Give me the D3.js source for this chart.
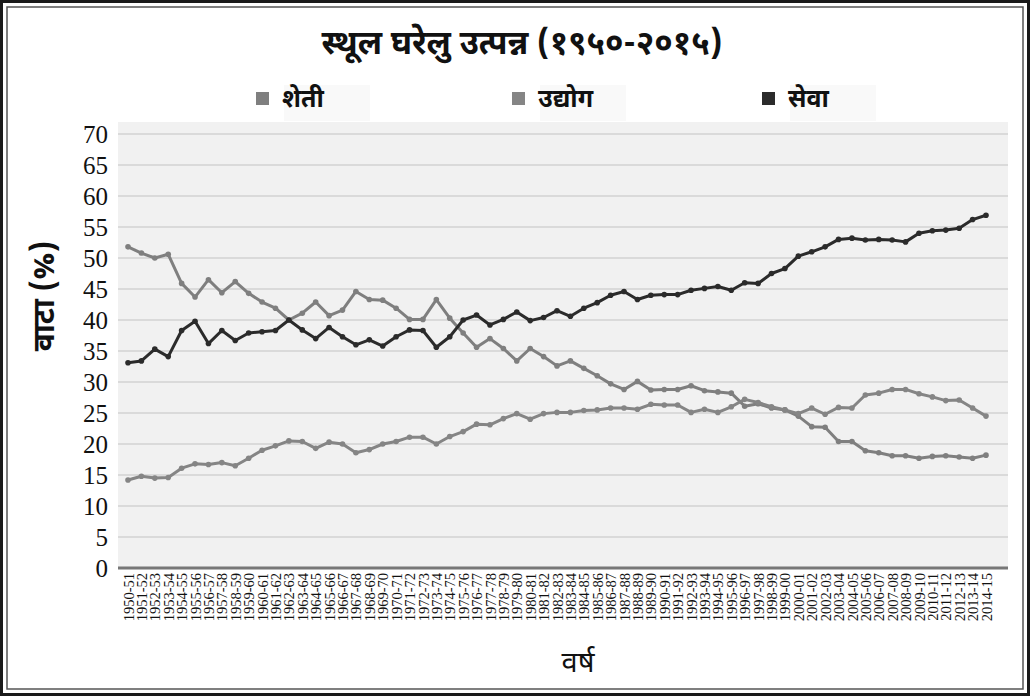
<!DOCTYPE html>
<html>
<head>
<meta charset="utf-8">
<script src="https://cdn.jsdelivr.net/npm/d3@7"></script>
<style>
  body { margin: 0; background: #fff; }
  svg { display: block; }
</style>
</head>
<body>
<script>
const width = 1030;
const height = 696;

// वर्षे (x axis categories)
const years = [
  "1950-51","1951-52","1952-53","1953-54","1954-55","1955-56","1956-57","1957-58","1958-59","1959-60",
  "1960-61","1961-62","1962-63","1963-64","1964-65","1965-66","1966-67","1967-68","1968-69","1969-70",
  "1970-71","1971-72","1972-73","1973-74","1974-75","1975-76","1976-77","1977-78","1978-79","1979-80",
  "1980-81","1981-82","1982-83","1983-84","1984-85","1985-86","1986-87","1987-88","1988-89","1989-90",
  "1990-91","1991-92","1992-93","1993-94","1994-95","1995-96","1996-97","1997-98","1998-99","1999-00",
  "2000-01","2001-02","2002-03","2003-04","2004-05","2005-06","2006-07","2007-08","2008-09","2009-10",
  "2010-11","2011-12","2012-13","2013-14","2014-15"
];

// शेती
const sheti = [
  51.8, 50.8, 50.0, 50.6, 45.9, 43.7, 46.5, 44.4, 46.2, 44.3,
  42.9, 41.9, 40.0, 41.1, 42.9, 40.7, 41.6, 44.6, 43.3, 43.2,
  41.9, 40.1, 40.1, 43.3, 40.3, 37.9, 35.6, 37.0, 35.4, 33.4,
  35.4, 34.1, 32.6, 33.4, 32.2, 31.0, 29.7, 28.8, 30.1, 28.7,
  28.8, 28.8, 29.4, 28.6, 28.4, 28.2, 26.1, 26.5, 25.8, 25.5,
  24.5, 22.8, 22.7, 20.4, 20.4, 18.9, 18.6, 18.1, 18.1, 17.7,
  18.0, 18.1, 17.9, 17.7, 18.2
];

// उद्योग
const udyog = [
  14.2, 14.8, 14.5, 14.6, 16.1, 16.8, 16.7, 17.0, 16.5, 17.7,
  19.0, 19.7, 20.5, 20.4, 19.3, 20.3, 20.0, 18.6, 19.1, 20.0,
  20.4, 21.1, 21.1, 20.0, 21.2, 22.0, 23.2, 23.1, 24.1, 24.9,
  24.0, 24.9, 25.1, 25.1, 25.4, 25.5, 25.8, 25.8, 25.6, 26.4,
  26.3, 26.3, 25.1, 25.6, 25.1, 26.0, 27.2, 26.7, 26.0, 25.5,
  24.9, 25.8, 24.8, 25.9, 25.8, 27.9, 28.2, 28.8, 28.8, 28.1,
  27.6, 27.0, 27.1, 25.8, 24.5
];

// सेवा
const seva = [
  33.1, 33.4, 35.3, 34.1, 38.3, 39.8, 36.2, 38.3, 36.7, 37.9,
  38.1, 38.3, 40.0, 38.4, 37.0, 38.8, 37.3, 36.0, 36.8, 35.8,
  37.3, 38.4, 38.3, 35.6, 37.3, 40.0, 40.8, 39.2, 40.1, 41.3,
  39.9, 40.4, 41.5, 40.6, 41.9, 42.8, 44.0, 44.6, 43.3, 44.0,
  44.1, 44.1, 44.8, 45.1, 45.4, 44.8, 46.0, 45.9, 47.5, 48.3,
  50.3, 51.0, 51.8, 53.0, 53.2, 52.9, 53.0, 52.9, 52.6, 54.0,
  54.4, 54.5, 54.8, 56.2, 56.9
];

const yTicks = [0, 5, 10, 15, 20, 25, 30, 35, 40, 45, 50, 55, 60, 65, 70];

const seriesNames = ["शेती", "उद्योग", "सेवा"];
const seriesColors = ["#7f7f7f", "#858585", "#2b2b2b"];
const seriesData = [sheti, udyog, seva];

const devFont = "'Noto Sans Devanagari', 'Lohit Devanagari', 'Mukta', 'FreeSans', sans-serif";
const serifFont = "'Liberation Serif', 'Times New Roman', serif";

const svg = d3.select("body").append("svg")
    .attr("width", width)
    .attr("height", height);

// फ्रेम
svg.append("rect")
    .attr("x", 1.5).attr("y", 1.5)
    .attr("width", width - 3).attr("height", height - 3)
    .attr("fill", "#fff").attr("stroke", "#1a1a1a").attr("stroke-width", 3);
svg.append("rect")
    .attr("x", 7).attr("y", 7)
    .attr("width", width - 14).attr("height", height - 14)
    .attr("fill", "none").attr("stroke", "#555").attr("stroke-width", 1.5);

// scales
const x = d3.scalePoint().domain(years).range([128, 986]);
const y = d3.scaleLinear().domain([0, 70]).range([568, 134]);

const plotLeft = 118, plotRight = 1008, plotTop = 122;

svg.append("rect")
    .attr("x", plotLeft).attr("y", plotTop)
    .attr("width", plotRight - plotLeft).attr("height", y(0) - plotTop)
    .attr("fill", "#f1f1f1");

// grid
svg.append("g")
  .selectAll("line")
  .data(yTicks.filter(d => d > 0))
  .join("line")
    .attr("x1", plotLeft).attr("x2", plotRight)
    .attr("y1", d => y(d)).attr("y2", d => y(d))
    .attr("stroke", "#dadada").attr("stroke-width", 2);

// y axis
const yAxis = svg.append("g")
    .attr("transform", `translate(${plotLeft},0)`)
    .call(d3.axisLeft(y).tickValues(yTicks).tickSize(0).tickPadding(10));
yAxis.attr("font-family", null).attr("font-size", null);
yAxis.select(".domain").remove();
yAxis.selectAll("text")
    .style("font-family", serifFont)
    .style("font-size", "25px")
    .attr("fill", "#111");

// x axis
const xAxis = svg.append("g")
    .attr("transform", `translate(0,${y(0)})`)
    .call(d3.axisBottom(x).tickSize(0).tickPadding(0));
xAxis.attr("font-family", null).attr("font-size", null);
xAxis.select(".domain")
    .attr("d", `M${plotLeft},0H${plotRight}`)
    .attr("stroke", "#777").attr("stroke-width", 3);
xAxis.selectAll("text")
    .style("font-family", serifFont)
    .style("font-size", "14.5px")
    .attr("fill", "#111")
    .attr("text-anchor", "end")
    .attr("dy", "0.35em")
    .attr("transform", "translate(0,5) rotate(-90)")
    .attr("x", 0).attr("y", 0);

// lines
const line = d3.line()
    .x((d, i) => x(years[i]))
    .y(d => y(d));

seriesData.forEach((vals, k) => {
  svg.append("path")
      .datum(vals)
      .attr("fill", "none")
      .attr("stroke", seriesColors[k])
      .attr("stroke-width", 3)
      .attr("stroke-linejoin", "round")
      .attr("d", line);
  svg.append("g")
    .selectAll("circle")
    .data(vals)
    .join("circle")
      .attr("cx", (d, i) => x(years[i]))
      .attr("cy", d => y(d))
      .attr("r", 2.8)
      .attr("fill", seriesColors[k]);
});

// title
svg.append("text")
    .attr("x", 522).attr("y", 54)
    .attr("text-anchor", "middle")
    .attr("font-family", devFont)
    .attr("font-weight", "bold")
    .attr("font-size", 33)
    .attr("fill", "#111")
    .text("स्थूल घरेलु उत्पन्न (१९५०-२०१५)");

// legend
const legendX = [256, 512, 762];
const legend = svg.append("g");
seriesNames.forEach((name, k) => {
  legend.append("rect")
      .attr("x", legendX[k] + 28).attr("y", 85)
      .attr("width", 86).attr("height", 36)
      .attr("fill", "#f9f9f9");
  legend.append("rect")
      .attr("x", legendX[k]).attr("y", 92)
      .attr("width", 13).attr("height", 13)
      .attr("fill", seriesColors[k]);
  legend.append("text")
      .attr("x", legendX[k] + 26).attr("y", 107)
      .attr("font-family", devFont)
      .attr("font-weight", "bold")
      .attr("font-size", 25)
      .attr("fill", "#111")
      .text(name);
});

// axis titles
svg.append("text")
    .attr("transform", "translate(54,296) rotate(-90)")
    .attr("text-anchor", "middle")
    .attr("font-family", devFont)
    .attr("font-weight", "bold")
    .attr("font-size", 30)
    .attr("fill", "#111")
    .text("वाटा (%)");

svg.append("text")
    .attr("x", 578).attr("y", 672)
    .attr("text-anchor", "middle")
    .attr("font-family", devFont)
    .attr("font-size", 29)
    .attr("fill", "#111")
    .text("वर्ष");
</script>
</body>
</html>
